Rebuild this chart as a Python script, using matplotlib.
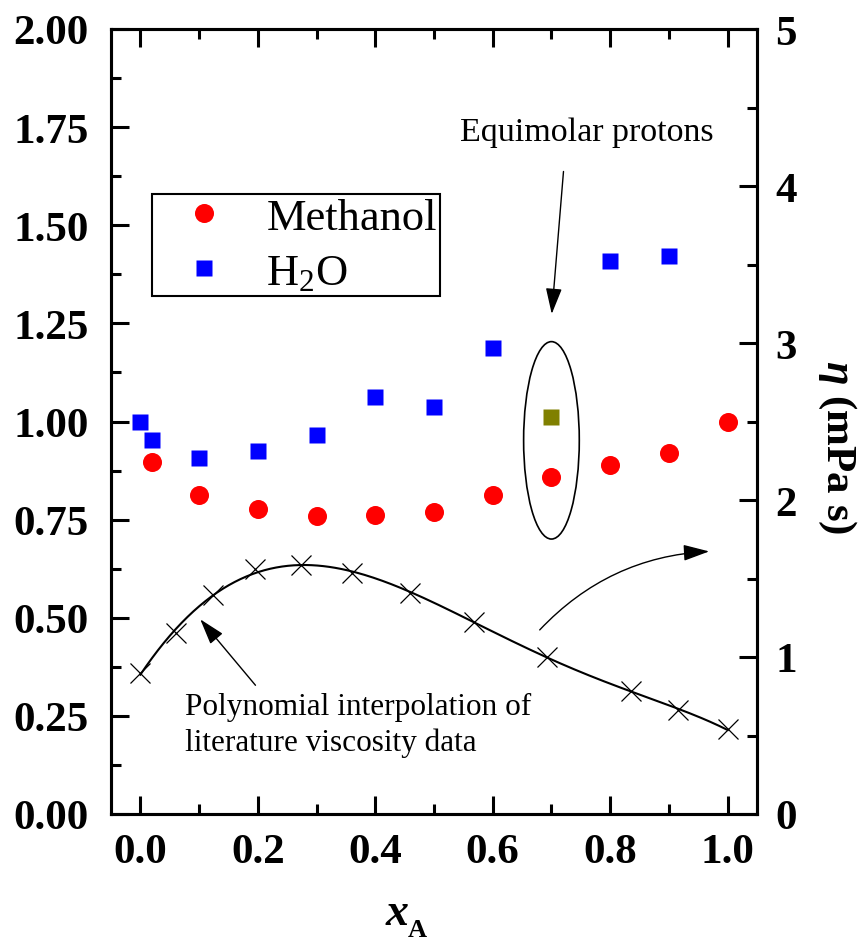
import matplotlib
matplotlib.use("Agg")
import matplotlib.pyplot as plt
from matplotlib.patches import Ellipse
from matplotlib.lines import Line2D
from matplotlib.ticker import MultipleLocator
import numpy as np

plt.rcParams['font.family'] = ['Liberation Serif', 'DejaVu Serif']
plt.rcParams['mathtext.fontset'] = 'custom'
plt.rcParams['mathtext.rm'] = 'Liberation Serif'
plt.rcParams['mathtext.it'] = 'Liberation Serif:italic:bold'
plt.rcParams['mathtext.bf'] = 'Liberation Serif:bold'

# self-diffusion ratios (left axis)
x_meoh = [0.02, 0.1, 0.2, 0.3, 0.4, 0.5, 0.6, 0.7, 0.8, 0.9, 1.0]
y_meoh = [0.896, 0.812, 0.776, 0.759, 0.761, 0.769, 0.813, 0.858, 0.888, 0.921, 1.000]
x_h2o = [0.0, 0.02, 0.1, 0.2, 0.3, 0.4, 0.5, 0.6, 0.8, 0.9]
y_h2o = [1.000, 0.954, 0.908, 0.926, 0.966, 1.063, 1.038, 1.187, 1.409, 1.421]
x_equi = [0.7]
y_equi = [1.011]

# literature viscosity, mPa s (right axis)
x_visc = [0.0, 0.06, 0.124, 0.196, 0.273, 0.361, 0.459, 0.568, 0.693, 0.836, 0.916, 1.0]
eta_visc = [0.900, 1.151, 1.393, 1.559, 1.585, 1.538, 1.406, 1.223, 1.003, 0.783, 0.660, 0.539]

fig = plt.figure(figsize=(8.58, 9.45), dpi=100)
ax = fig.add_axes([111/858, 1 - 815/945, (757 - 111)/858, (815 - 30)/945])
ax2 = ax.twinx()

# polynomial through the literature points
coef = np.polyfit(x_visc, eta_visc, 5)
xf = np.linspace(0, 1, 200)
ax2.plot(xf, np.polyval(coef, xf), color='k', lw=1.5)
ax2.plot(x_visc, eta_visc, ls='none', marker='x', ms=14, mew=0.9, color='k')

ax.plot(x_meoh, y_meoh, ls='none', marker='o', ms=13.7, color='#ff0000', mec='none')
ax.plot(x_h2o, y_h2o, ls='none', marker='s', ms=12, color='#0000ff', mec='none')
ax.plot(x_equi, y_equi, ls='none', marker='s', ms=12, color='#808000', mec='none')

ax.set_xlim(-0.05, 1.05)
ax.set_ylim(0, 2)
ax2.set_ylim(0, 5)

ax.xaxis.set_major_locator(MultipleLocator(0.2))
ax.xaxis.set_minor_locator(MultipleLocator(0.1))
ax.yaxis.set_major_locator(MultipleLocator(0.25))
ax.yaxis.set_minor_locator(MultipleLocator(0.125))
ax2.yaxis.set_major_locator(MultipleLocator(1))
ax2.yaxis.set_minor_locator(MultipleLocator(0.5))
ax.xaxis.set_major_formatter(lambda v, p: f"{v:.1f}")
ax.yaxis.set_major_formatter(lambda v, p: f"{v:.2f}")
ax2.yaxis.set_major_formatter(lambda v, p: f"{v:.0f}")

for a in (ax, ax2):
    for s in a.spines.values():
        s.set_linewidth(2.2)
ax.tick_params(which='both', direction='in', top=True, right=False, width=2.2)
ax.tick_params(which='major', length=13)
ax.tick_params(which='minor', length=7)
ax.tick_params(axis='y', which='major', pad=16)
ax.tick_params(axis='x', which='major', pad=14)
ax2.tick_params(which='both', direction='in', width=2.2)
ax2.tick_params(which='major', length=13, pad=13)
ax2.tick_params(which='minor', length=7)
for lab in ax.get_xticklabels() + ax.get_yticklabels() + ax2.get_yticklabels():
    lab.set_fontsize(31)
    lab.set_fontweight('bold')

ax2.set_ylabel(r'$\eta$ (mPa s)', fontsize=31, fontweight='bold', rotation=270)
ax2.yaxis.set_label_coords(1 + (837 - 757)/646, 1 - (447 - 30)/785)
ax2.yaxis.label.set_va('center')

fig.text(397/858, 1 - 925/945, 'x', fontsize=33, fontstyle='italic', fontweight='bold',
         ha='center', va='baseline')
fig.text(408/858, 1 - 937/945, 'A', fontsize=19, fontweight='bold', ha='left', va='baseline')

handles = [Line2D([], [], ls='none', marker='o', ms=13.7, color='#ff0000', mec='none'),
           Line2D([], [], ls='none', marker='s', ms=12, color='#0000ff', mec='none')]
leg = ax2.legend(handles, ['Methanol', 'H$_2$O'], loc='upper left',
                 bbox_to_anchor=(151.7/858, 1 - 195/945), bbox_transform=fig.transFigure,
                 borderaxespad=0, fontsize=32, frameon=True, fancybox=False,
                 edgecolor='k', borderpad=0.08, handlelength=2.2, handletextpad=0.3,
                 labelspacing=0.34)
leg.get_frame().set_linewidth(1.5)
leg.get_frame().set_alpha(None)

ax.add_patch(Ellipse((0.70, 0.952), 0.0948, 0.503, fill=False, lw=1.2, ec='k'))

ax.text(0.761, 1.716, 'Equimolar protons', fontsize=24.5, ha='center', va='baseline')
ax.annotate('', xy=(0.7005, 1.274), xytext=(0.7205, 1.637),
            arrowprops=dict(arrowstyle='-|>,head_length=0.8,head_width=0.25', color='k',
                            lw=1, shrinkA=0, shrinkB=0, mutation_scale=20))

ax.text(0.0767, 0.228, 'Polynomial interpolation of\nliterature viscosity data',
        fontsize=22.5, ha='left', va='center', linespacing=1.32)
ax.annotate('', xy=(0.102, 0.496), xytext=(0.196, 0.328),
            arrowprops=dict(arrowstyle='-|>,head_length=0.8,head_width=0.25', color='k',
                            lw=1, shrinkA=0, shrinkB=0, mutation_scale=20))

ax.annotate('', xy=(0.9686, 0.669), xytext=(0.680, 0.469),
            arrowprops=dict(arrowstyle='-|>,head_length=0.8,head_width=0.25', color='k',
                            lw=1, shrinkA=0, shrinkB=0, mutation_scale=20,
                            connectionstyle='arc3,rad=-0.2'))

fig.savefig('out.png', dpi=100)
